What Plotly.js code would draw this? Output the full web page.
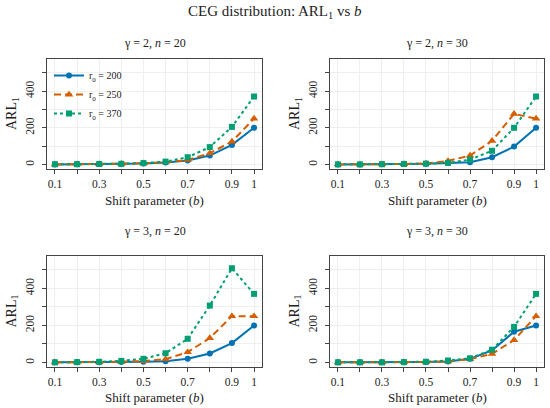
<!DOCTYPE html>
<html><head><meta charset="utf-8">
<script src="https://cdn.plot.ly/plotly-3.0.1.min.js"></script>
<style>body{margin:0;padding:0;background:#fff}#plot{width:550px;height:408px}</style>
</head><body><div id="plot"></div>
<script>
const shiftB = [0.1,0.2,0.3,0.4,0.5,0.6,0.7,0.8,0.9,1];
const seriesNames = ['r<sub>0</sub> = 200','r<sub>0</sub> = 250','r<sub>0</sub> = 370'];
const panelTitles = ['γ = 2, <i>n</i> = 20','γ = 2, <i>n</i> = 30','γ = 3, <i>n</i> = 20','γ = 3, <i>n</i> = 30'];
const xTickVals = [0.1,0.3,0.5,0.7,0.9,1];
const xTickText = ['0.1','0.3','0.5','0.7','0.9','1'];
const yTickVals = [0,200,400];
const yTickText = ['0','200','400'];

const g2n20_r200 = [1,2,3,4,6,12,22,49,107,200];
const g2n20_r250 = [1,2,3,4,7,13,25,62,125,250];
const g2n20_r370 = [2,2,3,4,8,16,40,95,205,370];

const g2n30_r200 = [1,1,2,3,4,8,13,40,98,200];
const g2n30_r250 = [1,1,2,3,6,20,49,129,276,250];
const g2n30_r370 = [1,1,2,3,5,9,27,75,200,370];

const g3n20_r200 = [1,1,2,3,4,7,20,49,105,200];
const g3n20_r250 = [1,1,2,4,8,18,56,132,250,250];
const g3n20_r370 = [1,2,4,9,20,50,128,307,508,370];

const g3n30_r200 = [1,1,1,2,3,6,20,65,166,200];
const g3n30_r250 = [1,1,1,2,3,6,18,47,121,250];
const g3n30_r370 = [1,1,1,2,4,11,23,69,192,370];

const panels = [
  [g2n20_r200,g2n20_r250,g2n20_r370],
  [g2n30_r200,g2n30_r250,g2n30_r370],
  [g3n20_r200,g3n20_r250,g3n20_r370],
  [g3n30_r200,g3n30_r250,g3n30_r370]
];
const colors = ['#0072B2','#D55E00','#009E73'];
const dashes = ['solid','7px,4px','3px,3px'];
const symbols = ['circle','triangle-up','square'];
const msize = [6,7.5,6];

const FONT = 'Liberation Serif';
const traces = [];
panels.forEach((p,i)=>{
  p.forEach((vals,j)=>{
    traces.push({
      x: shiftB, y: vals, type:'scatter', mode:'lines+markers',
      name: seriesNames[j], showlegend: i===0,
      xaxis: i===0?'x':'x'+(i+1), yaxis: i===0?'y':'y'+(i+1),
      line:{color:colors[j], width:2, dash:dashes[j]},
      marker:{color:colors[j], symbol:symbols[j], size:msize[j]}
    });
  });
});

const xDom = [[47/550,262/550],[330/550,544/550]];
const yDom = [[1-169/408,1-59/408],[1-367/408,1-256/408]];
function xa(dom, anchor){
  return {domain:dom, anchor:anchor, range:[0.064,1.036], tickmode:'array', tickvals:xTickVals, ticktext:xTickText,
    ticks:'outside', ticklen:4, tickcolor:'#444', showline:true, mirror:true, linecolor:'#444', linewidth:1,
    showgrid:true, gridcolor:'#efefef', zeroline:false, tickfont:{family:FONT,size:11.5,color:'#222'},
    minor:{tick0:0, dtick:0.1, ticks:'outside', ticklen:4, tickcolor:'#444', showgrid:true, gridcolor:'#efefef'}};
}
function ya(dom, anchor){
  return {domain:dom, anchor:anchor, range:[-24,574], tickmode:'array', tickvals:yTickVals, ticktext:yTickText, tickangle:-90,
    ticks:'outside', ticklen:4, tickcolor:'#444', showline:true, mirror:true, linecolor:'#444', linewidth:1,
    ticklabelstandoff:3,
    showgrid:true, gridcolor:'#efefef', zeroline:false, tickfont:{family:FONT,size:11.5,color:'#222'},
    minor:{tick0:0, dtick:100, ticks:'outside', ticklen:4, tickcolor:'#444', showgrid:true, gridcolor:'#efefef'}};
}
const layout = {
  width:550, height:408, margin:{l:0,r:0,t:0,b:0}, paper_bgcolor:'#fff', plot_bgcolor:'#fff',
  font:{family:FONT, color:'#222'},
  xaxis: xa(xDom[0],'y'), yaxis: ya(yDom[0],'x'),
  xaxis2: xa(xDom[1],'y2'), yaxis2: ya(yDom[0],'x2'),
  xaxis3: xa(xDom[0],'y3'), yaxis3: ya(yDom[1],'x3'),
  xaxis4: xa(xDom[1],'y4'), yaxis4: ya(yDom[1],'x4'),
  showlegend:true,
  legend:{x:49/550, y:1-61/408, xanchor:'left', yanchor:'top', bgcolor:'rgba(0,0,0,0)',
    font:{family:FONT,size:10,color:'#222'}, itemwidth:30, tracegroupgap:0},
  annotations:[]
};
const ann = layout.annotations;
ann.push({text:'CEG distribution: ARL<sub>1</sub> vs <i>b</i>', x:0.5, y:1-12/408, xref:'paper', yref:'paper',
  showarrow:false, font:{family:FONT,size:15,color:'#222'}, xanchor:'center', yanchor:'middle'});
const titleY = [43,43,231,231];
const axisTitleY = [200,200,397,397];
panelTitles.forEach((t,i)=>{
  const xd = xDom[i%2];
  const cx = (xd[0]+xd[1])/2;
  ann.push({text:t, x:cx, y:1-titleY[i]/408, xref:'paper', yref:'paper', showarrow:false,
    font:{family:FONT,size:12,color:'#222'}, xanchor:'center', yanchor:'middle'});
  ann.push({text:'Shift parameter (<i>b</i>)', x:cx, y:1-axisTitleY[i]/408, xref:'paper', yref:'paper', showarrow:false,
    font:{family:FONT,size:13,color:'#222'}, xanchor:'center', yanchor:'middle'});
  const yd = yDom[Math.floor(i/2)];
  const lx = i%2===0 ? 12 : 295;
  ann.push({text:'ARL<sub>1</sub>', x:lx/550, y:(yd[0]+yd[1])/2, xref:'paper', yref:'paper', showarrow:false,
    textangle:-90, font:{family:FONT,size:14,color:'#222'}, xanchor:'center', yanchor:'middle'});
});
Plotly.newPlot('plot', traces, layout, {displayModeBar:false, staticPlot:true});
</script></body></html>
